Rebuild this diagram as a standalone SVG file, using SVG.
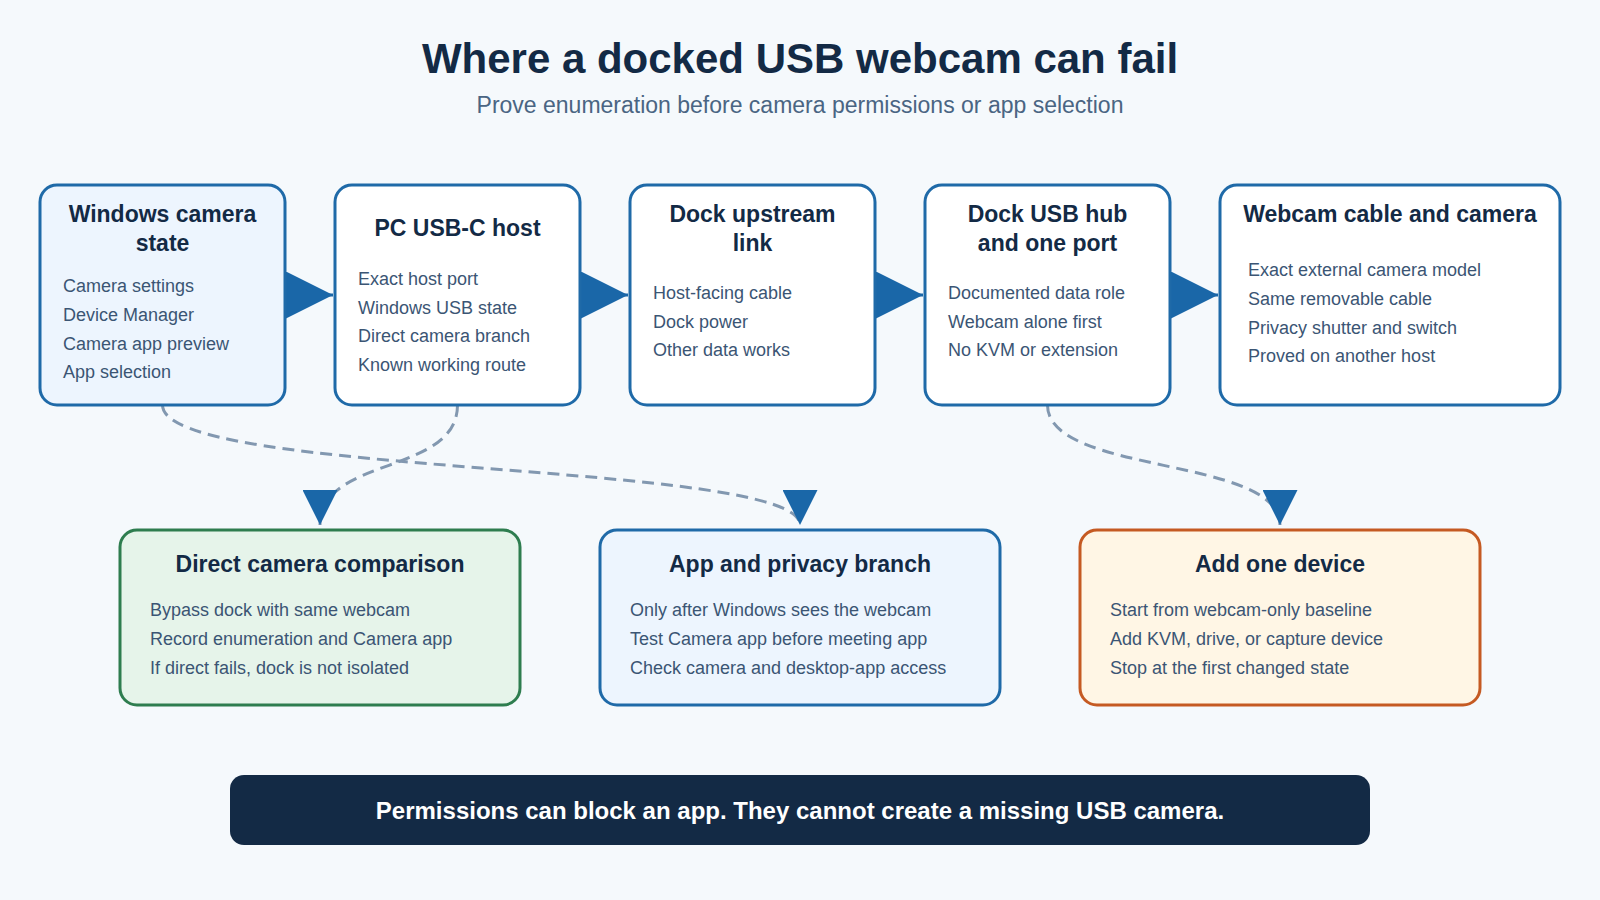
<svg xmlns="http://www.w3.org/2000/svg" width="1600" height="900" viewBox="0 0 1600 900">
<defs>
<style>
.t{font-family:"Liberation Sans",Arial,sans-serif;fill:#132a45}
.h1{font-size:42px;font-weight:700;text-anchor:middle}
.sub{font-size:23px;fill:#4a6583;text-anchor:middle}
.nt{font-size:23px;font-weight:700;text-anchor:middle}
.it{font-size:18px;fill:#3b5574}
.box{stroke:#1f6aa8;stroke-width:3}
.flow{stroke:#1a67a8;stroke-width:3;fill:none}
.dash{stroke:#8298b0;stroke-width:3;fill:none;stroke-dasharray:12 7}
.ban{font-size:24px;font-weight:700;fill:#ffffff;text-anchor:middle}
</style>
<marker id="ah" viewBox="0 0 10 10" refX="10" refY="5" markerUnits="userSpaceOnUse" markerWidth="47" markerHeight="47" orient="auto">
<path d="M0,0 L10,5 L0,10 z" fill="#1a67a8"/>
</marker>
<marker id="ah2" viewBox="0 0 10 10" refX="10" refY="5" markerUnits="userSpaceOnUse" markerWidth="35" markerHeight="35" orient="auto">
<path d="M0,0 L10,5 L0,10 z" fill="#1a67a8"/>
</marker>
</defs>
<rect width="1600" height="900" fill="#f5f9fc"/>
<text class="t h1" x="800" y="73">Where a docked USB webcam can fail</text>
<text class="t sub" x="800" y="112.5">Prove enumeration before camera permissions or app selection</text>

<g id="connectors">
<line class="flow" x1="285" y1="295" x2="333" y2="295" marker-end="url(#ah)"/>
<line class="flow" x1="580" y1="295" x2="628" y2="295" marker-end="url(#ah)"/>
<line class="flow" x1="875" y1="295" x2="923" y2="295" marker-end="url(#ah)"/>
<line class="flow" x1="1170" y1="295" x2="1218" y2="295" marker-end="url(#ah)"/>
<path class="dash" d="M162.5 405 C162.5 478 800 460 800 525" marker-end="url(#ah2)"/>
<path class="dash" d="M457.5 405 C457.5 475 320 456 320 525" marker-end="url(#ah2)"/>
<path class="dash" d="M1047.5 405 C1047.5 475 1280 456 1280 525" marker-end="url(#ah2)"/>
</g>

<g id="n-windows">
<rect class="box" x="40" y="185" width="245" height="220" rx="17" fill="#edf5fe"/>
<text class="t nt" x="162.5" y="222">Windows camera</text>
<text class="t nt" x="162.5" y="251">state</text>
<text class="t it" x="63" y="292">Camera settings</text>
<text class="t it" x="63" y="321">Device Manager</text>
<text class="t it" x="63" y="349.5">Camera app preview</text>
<text class="t it" x="63" y="378">App selection</text>
</g>

<g id="n-host">
<rect class="box" x="335" y="185" width="245" height="220" rx="17" fill="#ffffff"/>
<text class="t nt" x="457.5" y="236">PC USB-C host</text>
<text class="t it" x="358" y="285">Exact host port</text>
<text class="t it" x="358" y="313.5">Windows USB state</text>
<text class="t it" x="358" y="342">Direct camera branch</text>
<text class="t it" x="358" y="371">Known working route</text>
</g>

<g id="n-upstream">
<rect class="box" x="630" y="185" width="245" height="220" rx="17" fill="#ffffff"/>
<text class="t nt" x="752.5" y="222">Dock upstream</text>
<text class="t nt" x="752.5" y="251">link</text>
<text class="t it" x="653" y="299">Host-facing cable</text>
<text class="t it" x="653" y="327.5">Dock power</text>
<text class="t it" x="653" y="356">Other data works</text>
</g>

<g id="n-hub">
<rect class="box" x="925" y="185" width="245" height="220" rx="17" fill="#ffffff"/>
<text class="t nt" x="1047.5" y="222">Dock USB hub</text>
<text class="t nt" x="1047.5" y="251">and one port</text>
<text class="t it" x="948" y="299">Documented data role</text>
<text class="t it" x="948" y="327.5">Webcam alone first</text>
<text class="t it" x="948" y="356">No KVM or extension</text>
</g>

<g id="n-webcam">
<rect class="box" x="1220" y="185" width="340" height="220" rx="17" fill="#ffffff"/>
<text class="t nt" x="1390" y="222">Webcam cable and camera</text>
<text class="t it" x="1248" y="276">Exact external camera model</text>
<text class="t it" x="1248" y="304.5">Same removable cable</text>
<text class="t it" x="1248" y="333.5">Privacy shutter and switch</text>
<text class="t it" x="1248" y="362">Proved on another host</text>
</g>

<g id="n-direct">
<rect x="120" y="530" width="400" height="175" rx="17" fill="#e6f4ea" stroke="#2e7d4f" stroke-width="3"/>
<text class="t nt" x="320" y="572">Direct camera comparison</text>
<text class="t it" x="150" y="616">Bypass dock with same webcam</text>
<text class="t it" x="150" y="645">Record enumeration and Camera app</text>
<text class="t it" x="150" y="673.5">If direct fails, dock is not isolated</text>
</g>

<g id="n-app">
<rect class="box" x="600" y="530" width="400" height="175" rx="17" fill="#edf5fe"/>
<text class="t nt" x="800" y="572">App and privacy branch</text>
<text class="t it" x="630" y="616">Only after Windows sees the webcam</text>
<text class="t it" x="630" y="645">Test Camera app before meeting app</text>
<text class="t it" x="630" y="673.5">Check camera and desktop-app access</text>
</g>

<g id="n-add">
<rect x="1080" y="530" width="400" height="175" rx="17" fill="#fff6e5" stroke="#c55a22" stroke-width="3"/>
<text class="t nt" x="1280" y="572">Add one device</text>
<text class="t it" x="1110" y="616">Start from webcam-only baseline</text>
<text class="t it" x="1110" y="645">Add KVM, drive, or capture device</text>
<text class="t it" x="1110" y="673.5">Stop at the first changed state</text>
</g>

<g id="n-banner">
<rect x="230" y="775" width="1140" height="70" rx="14" fill="#132a45"/>
<text class="t ban" x="800" y="819">Permissions can block an app. They cannot create a missing USB camera.</text>
</g>
</svg>
